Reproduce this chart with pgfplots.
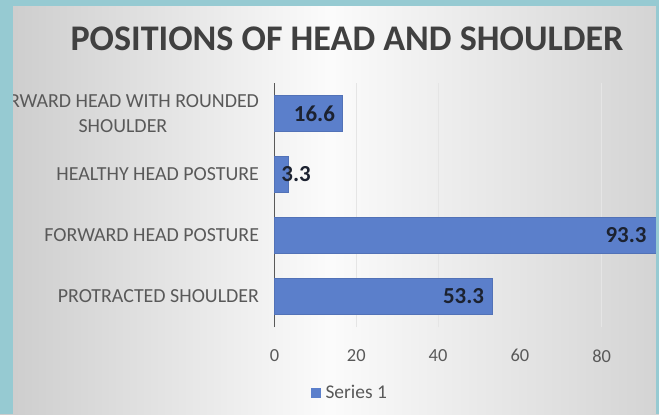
\documentclass[border=0pt]{standalone}
\usepackage{pgfplots}
\pgfplotsset{compat=1.18}
\usepackage{fontspec}
\setmainfont{Carlito}
\definecolor{frame}{HTML}{96CAD2}
\definecolor{barblue}{HTML}{5B7FCB}
\definecolor{txtgray}{HTML}{595959}
\definecolor{titlegray}{HTML}{404040}
\definecolor{lblcol}{HTML}{1C2230}
\begin{document}
\begin{tikzpicture}[x=1bp,y=1bp]
\useasboundingbox (0,0) rectangle (659,414);
\shade[left color=gray!40, right color=gray!34, middle color=white!97!gray] (0,0) rectangle (659,414);
\node[anchor=base, font=\fontsize{36.2}{40}\selectfont\bfseries, text=titlegray] at (347,364) {POSITIONS OF HEAD AND SHOULDER};
\begin{axis}[
  at={(274.5bp,87bp)}, anchor=south west,
  scale only axis, width=381.5bp, height=244bp,
  xbar, bar width=0.59,
  xmin=0, xmax=93.3, ymin=-0.5, ymax=3.5,
  ytick={0,1,2,3},
  yticklabels={PROTRACTED SHOULDER, FORWARD HEAD POSTURE, HEALTHY HEAD POSTURE, {FORWARD HEAD WITH ROUNDED\\SHOULDER}},
  yticklabel style={align=center, font=\fontsize{20}{25}\selectfont, text=txtgray, xshift=-12bp},
  xtick={0,20,40,60,80},
  xticklabel style={font=\fontsize{18.5}{20}\selectfont, text=txtgray, yshift=-19bp},
  /pgf/number format/assume math mode=true,
  major tick length=0pt,
  axis x line*=bottom, axis y line*=left,
  separate axis lines,
  x axis line style={draw=none},
  y axis line style={draw=txtgray, line width=1.4bp},
  xmajorgrids, grid style={gray!20, line width=0.8bp},
  point meta=x,
  visualization depends on={value \thisrow{anc} \as \myanc},
  visualization depends on={\thisrow{sh} \as \mysh},
  nodes near coords={\pgfmathprintnumber[fixed,precision=1]{\pgfplotspointmeta}},
  every node near coord/.append style={anchor=\myanc, xshift=\mysh bp, font=\fontsize{23}{26}\selectfont\bfseries, text=lblcol},
  legend style={at={(0.198,-0.27)}, anchor=center, draw=none, fill=none, font=\fontsize{19.5}{22}\selectfont, text=txtgray, legend cell align=left, /tikz/every odd column/.append style={column sep=3bp}},
  legend image code/.code={\fill[barblue] (0bp,-4.5bp) rectangle (9bp,4.5bp);},
  clip=false,
]
\addplot[fill=barblue, draw=barblue!90!black, line width=0.3bp] table[x=x, y=y] {
y x anc sh
0 53.3 east -5
1 93.3 east -6
2 3.3 west -10
3 16.6 east -4
};
\legend{Series 1}
\end{axis}
\fill[frame] (0,0) rectangle (13,414);
\fill[frame] (0,408) rectangle (659,414);
\fill[frame] (656,0) rectangle (659,414);
\end{tikzpicture}
\end{document}
